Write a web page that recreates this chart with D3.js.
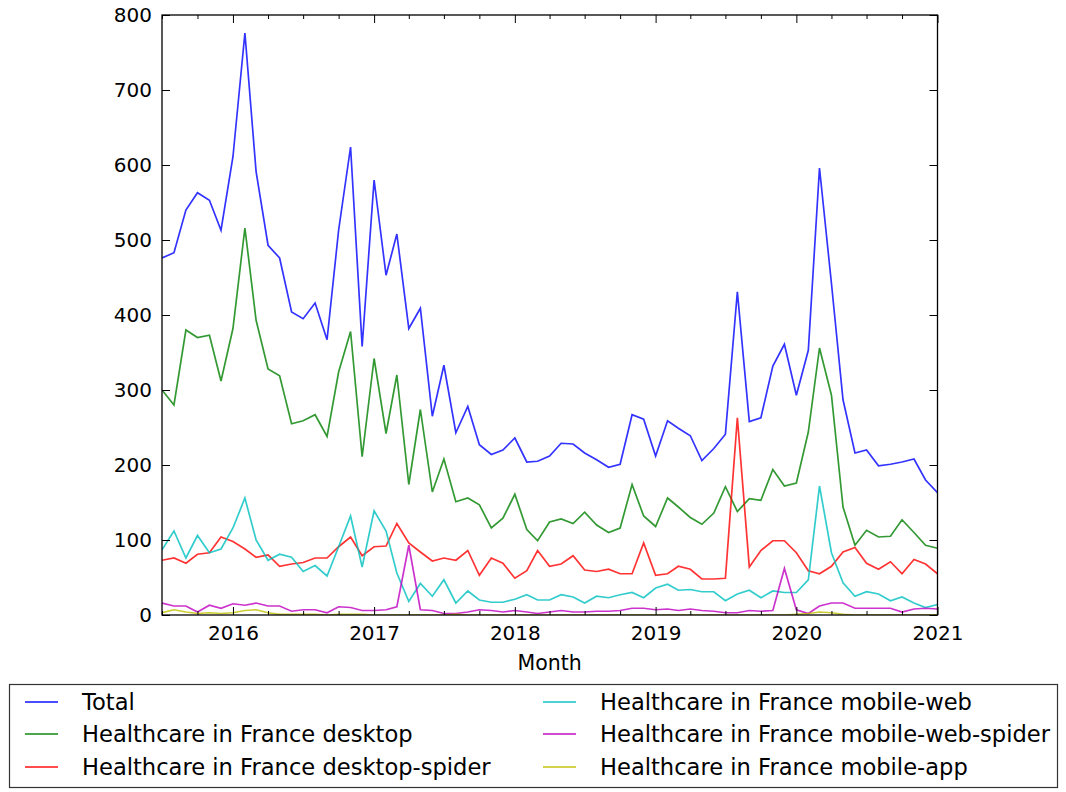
<!DOCTYPE html>
<html><head><meta charset="utf-8">
<script src="https://cdn.jsdelivr.net/npm/d3@7/dist/d3.min.js"></script>
<style>body{margin:0;background:#fff;} svg{display:block;} text{font-family:"DejaVu Sans",sans-serif;}</style>
</head><body>
<svg id="chart" width="1066" height="792"></svg>
<script>
const startMonth = "2015-07";
const monthCount = 67;
const seriesNames = ["Total","Healthcare in France desktop","Healthcare in France desktop-spider","Healthcare in France mobile-web","Healthcare in France mobile-web-spider","Healthcare in France mobile-app"];
const seriesColors = ["#0000ff","#008000","#ff0000","#00bfbf","#bf00bf","#bfbf00"];
const total = [476,483,540,563,553,513,611,776,591,493,476,404,395,416,367,513,624,358,580,453,508,382,409,265,333,243,278,227,214,220,236,204,205,212,229,228,216,207,197,201,267,261,212,259,249,239,206,222,241,431,258,263,332,361,293,353,596,442,287,216,220,199,201,204,208,180,163];
const desktop = [300,280,380,370,373,312,382,516,393,328,319,255,259,267,238,324,378,211,342,242,320,174,274,164,208,151,156,147,116,129,161,114,99,124,128,122,137,120,110,116,174,132,118,156,144,130,121,136,171,138,155,153,194,172,176,244,356,293,144,93,113,104,105,127,110,93,89];
const desktopSpider = [73,76,69,81,83,104,98,88,77,80,65,68,70,76,76,91,104,79,91,92,122,96,84,72,76,73,86,53,76,69,49,59,86,65,68,79,60,58,61,55,55,96,53,55,65,61,48,48,49,263,64,86,99,99,83,59,55,65,84,90,69,61,71,55,74,68,55];
const mobileWeb = [87,112,76,106,83,88,116,156,100,73,81,77,58,66,52,91,132,64,139,112,56,18,42,25,47,16,32,20,17,17,21,27,20,20,27,24,16,25,23,27,30,23,36,41,33,34,31,31,19,28,33,23,32,30,30,47,172,83,43,25,31,28,19,24,16,10,14];
const mobileWebSpider = [16,12,12,4,13,9,15,13,16,12,12,5,7,7,3,11,10,6,6,7,11,93,7,6,2,2,4,7,6,4,6,4,2,4,6,4,4,5,5,6,9,9,7,8,6,8,6,5,3,3,6,5,6,62,7,2,12,16,16,9,9,9,9,4,8,9,8];
const mobileApp = [3,7,4,2,3,2,3,6,7,3,1,1,1,1,0,1,1,1,0,0,0,0,0,0,0,1,0,0,0,0,0,0,0,0,0,0,0,0,0,0,0,0,0,0,0,0,0,0,0,0,0,0,0,0,1,2,4,3,1,0,0,0,0,0,0,0,0];
const yTicks = [0,100,200,300,400,500,600,700,800];
const xTickYears = [2016,2017,2018,2019,2020,2021];
const xLabel = "Month";

const seriesValues = [total, desktop, desktopSpider, mobileWeb, mobileWebSpider, mobileApp];
const parse = d3.timeParse("%Y-%m");
const months = d3.range(monthCount).map(i => d3.timeMonth.offset(parse(startMonth), i));

const svg = d3.select("#chart");
const L = 162, R = 937.5, T = 15, B = 615;
const x = d3.scaleTime().domain([months[0], months[months.length-1]]).range([L, R]);
const y = d3.scaleLinear().domain([0, 800]).range([B, T]);

svg.append("defs").append("clipPath").attr("id","clip")
  .append("rect").attr("x",L).attr("y",T).attr("width",R-L).attr("height",B-T);

const line = d3.line().x((d,i) => x(months[i])).y(d => y(d));
const g = svg.append("g").attr("clip-path","url(#clip)");
seriesValues.forEach((vals, k) => {
  g.append("path").datum(vals).attr("d", line)
    .attr("fill","none").attr("stroke", seriesColors[k]).attr("stroke-opacity",0.8)
    .attr("stroke-width",1.7).attr("stroke-linejoin","miter");
});

// axes (inside ticks)
const yearDates = xTickYears.map(yr => new Date(yr,0,1));
const minorDates = d3.timeMonth.every(3).range(months[0], d3.timeMonth.offset(months[months.length-1],1))
  .filter(d => d.getMonth() !== 0);

const axBottom = d3.axisBottom(x).tickValues(yearDates).tickFormat(d3.timeFormat("%Y")).tickSize(-8).tickPadding(11);
const ax = svg.append("g").attr("transform",`translate(0,${B})`).call(axBottom);
ax.select(".domain").remove();
ax.selectAll("text").attr("font-size",20).attr("font-family","DejaVu Sans").attr("fill","#000");
const axBottomMinor = d3.axisBottom(x).tickValues(minorDates).tickFormat("").tickSize(-4);
svg.append("g").attr("transform",`translate(0,${B})`).call(axBottomMinor).select(".domain").remove();
const axTop = d3.axisTop(x).tickValues(yearDates).tickFormat("").tickSize(-8);
svg.append("g").attr("transform",`translate(0,${T})`).call(axTop).select(".domain").remove();
const axTopMinor = d3.axisTop(x).tickValues(minorDates).tickFormat("").tickSize(-4);
svg.append("g").attr("transform",`translate(0,${T})`).call(axTopMinor).select(".domain").remove();

const axLeft = d3.axisLeft(y).tickValues(yTicks).tickSize(-8).tickPadding(10);
const ay = svg.append("g").attr("transform",`translate(${L},0)`).call(axLeft);
ay.select(".domain").remove();
ay.selectAll("text").attr("font-size",20).attr("font-family","DejaVu Sans").attr("fill","#000");
const axRight = d3.axisRight(y).tickValues(yTicks).tickFormat("").tickSize(-8);
svg.append("g").attr("transform",`translate(${R},0)`).call(axRight).select(".domain").remove();
svg.selectAll(".tick line").attr("stroke","#000").attr("stroke-width",1);

svg.append("rect").attr("x",L).attr("y",T).attr("width",R-L).attr("height",B-T)
  .attr("fill","none").attr("stroke","#000").attr("stroke-width",1.3);

svg.append("text").attr("x",(L+R)/2).attr("y",670).attr("text-anchor","middle")
  .attr("font-size",20.5).text(xLabel);

// legend
const lg = svg.append("g");
lg.append("rect").attr("x",9.5).attr("y",684.5).attr("width",1048).attr("height",103)
  .attr("fill","#fff").attr("stroke","#333").attr("stroke-width",1.2);
const colX = [25, 543], rowY = [702, 734, 767];
seriesNames.forEach((name, k) => {
  const cx = colX[Math.floor(k/3)], cy = rowY[k%3];
  lg.append("line").attr("x1",cx).attr("x2",cx+33).attr("y1",cy).attr("y2",cy)
    .attr("stroke",seriesColors[k]).attr("stroke-opacity",0.7).attr("stroke-width",1.8);
  lg.append("text").attr("x",cx+57).attr("y",cy+7.5).attr("font-size",22.6).text(name);
});
</script>
</body></html>
